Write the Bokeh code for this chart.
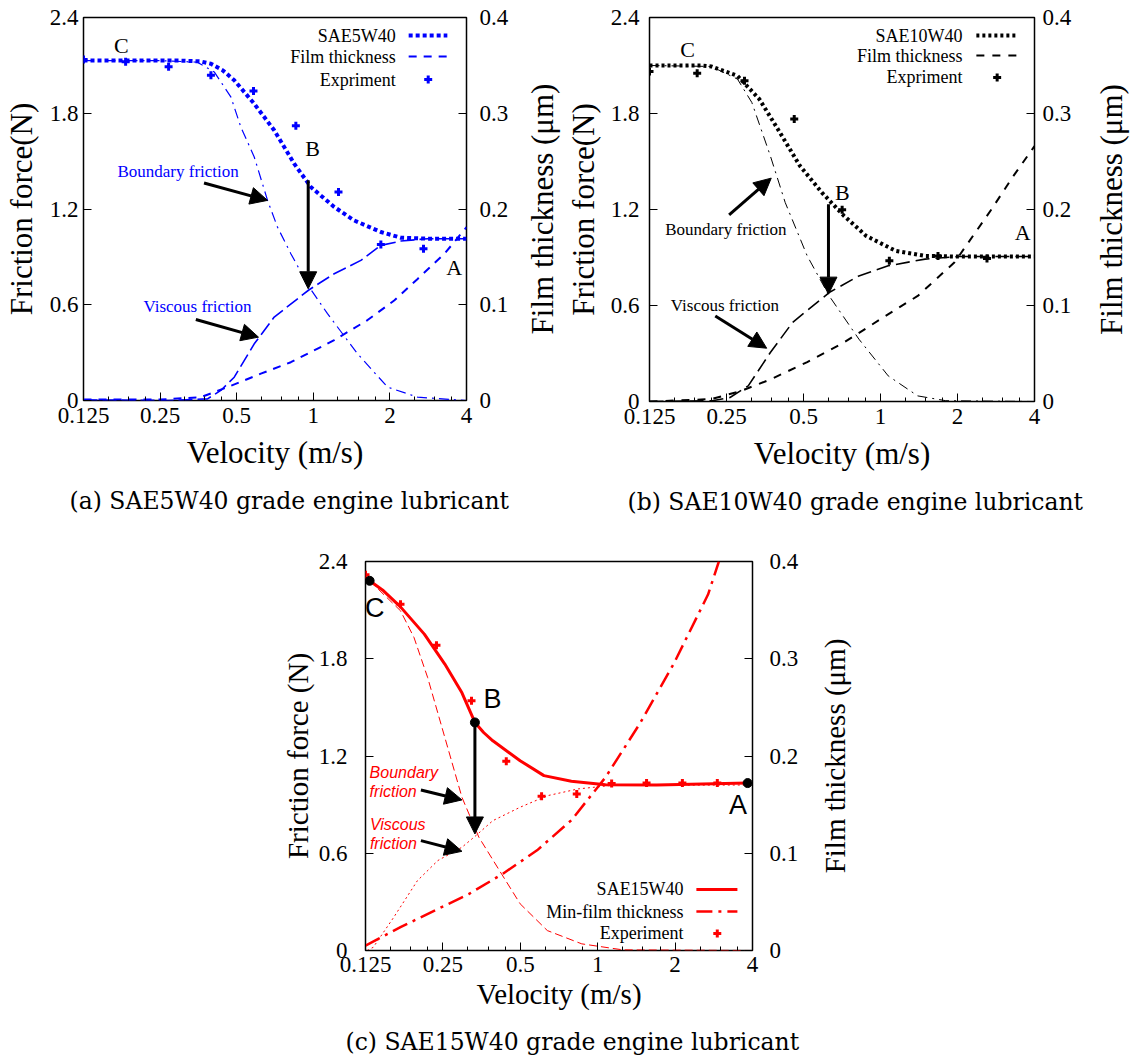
import math
from bokeh.plotting import figure
from bokeh.models import (Range1d, LinearAxis, FixedTicker, CustomJSTickFormatter,
                          Label, Arrow, NormalHead, Title)
from bokeh.layouts import column, row
from bokeh.embed import file_html
from bokeh.resources import INLINE

SERIF = "Liberation Serif"
SANS = "Liberation Sans"
CAPF = "DejaVu Serif"

# ---------------- axes ----------------
X_MIN, X_MAX = 0.125, 4.0
F_MAX, H_MAX = 2.4, 0.4
X_TICKS = [0.125, 0.25, 0.5, 1, 2, 4]
X_MINOR = [0.15625, 0.1875, 0.21875, 0.3125, 0.375, 0.4375, 0.625, 0.75, 0.875,
           1.25, 1.5, 1.75, 2.5, 3, 3.5]
F_TICKS = [0, 0.6, 1.2, 1.8, 2.4]
H_TICKS = [0, 0.1, 0.2, 0.3, 0.4]

# ---------------- (a) SAE5W40 ----------------
a_exp_v = [0.125, 0.183, 0.270, 0.396, 0.582, 0.854, 1.256, 1.843, 2.71]
a_exp_f = [2.137, 2.122, 2.091, 2.038, 1.940, 1.721, 1.307, 0.978, 0.951]
a_tot_v = [0.125, 0.20, 0.30, 0.36, 0.396, 0.44, 0.489, 0.585, 0.702, 0.841, 0.978, 1.208, 1.444, 1.843, 2.209, 2.8, 4.0]
a_tot_f = [2.13, 2.13, 2.13, 2.125, 2.11, 2.07, 2.007, 1.861, 1.693, 1.484, 1.338, 1.213, 1.129, 1.056, 1.020, 1.014, 1.014]
a_bnd_v = [0.125, 0.25, 0.35, 0.408, 0.474, 0.519, 0.586, 0.661, 0.723, 0.816, 0.963, 1.137, 1.492, 1.958, 2.57, 4.0]
a_bnd_f = [2.13, 2.13, 2.12, 2.059, 1.903, 1.714, 1.526, 1.254, 1.087, 0.920, 0.711, 0.544, 0.293, 0.084, 0.021, 0.0]
a_vis_v = [0.125, 0.27, 0.384, 0.433, 0.489, 0.586, 0.702, 0.963, 1.208, 1.538, 1.843, 2.209, 2.81, 4.0]
a_vis_f = [0.004, 0.0, 0.01, 0.063, 0.146, 0.355, 0.523, 0.694, 0.794, 0.878, 0.972, 0.999, 1.014, 1.014]
a_h_v = [0.125, 0.25, 0.362, 0.460, 0.622, 0.816, 1.208, 1.634, 2.079, 2.57, 3.27, 4.0]
a_h = [0.001, 0.001, 0.0035, 0.014, 0.028, 0.040, 0.063, 0.084, 0.1045, 0.127, 0.153, 0.181]

# ---------------- (b) SAE10W40 ----------------
b_exp_v = [0.125, 0.192, 0.294, 0.460, 0.708, 1.083, 1.678, 2.608]
b_exp_f = [2.063, 2.052, 2.004, 1.765, 1.198, 0.879, 0.910, 0.894]
b_tot_v = [0.125, 0.20, 0.218, 0.276, 0.336, 0.397, 0.484, 0.590, 0.720, 0.879, 1.145, 1.494, 2.0, 4.0]
b_tot_f = [2.10, 2.10, 2.094, 2.035, 1.890, 1.702, 1.473, 1.306, 1.160, 1.035, 0.942, 0.910, 0.906, 0.906]
b_bnd_v = [0.125, 0.218, 0.276, 0.314, 0.371, 0.424, 0.517, 0.630, 0.823, 1.072, 1.398, 1.8, 4.0]
b_bnd_f = [2.10, 2.094, 2.015, 1.869, 1.535, 1.244, 0.910, 0.660, 0.390, 0.160, 0.035, 0.005, 0.0]
b_vis_v = [0.125, 0.22, 0.258, 0.304, 0.371, 0.453, 0.630, 0.823, 1.072, 1.494, 2.0, 4.0]
b_vis_f = [0.0, 0.005, 0.025, 0.098, 0.306, 0.494, 0.681, 0.785, 0.848, 0.890, 0.906, 0.906]
b_h_v = [0.125, 0.218, 0.285, 0.371, 0.517, 0.720, 1.003, 1.398, 1.948, 2.713, 3.31, 4.0]
b_h = [0.0, 0.0025, 0.011, 0.023, 0.041, 0.0615, 0.086, 0.110, 0.145, 0.200, 0.235, 0.266]

# ---------------- (c) SAE15W40 ----------------
c_exp_v = [0.125, 0.171, 0.236, 0.323, 0.441, 0.605, 0.829, 1.133, 1.549, 2.135, 2.919]
c_exp_f = [2.318, 2.137, 1.884, 1.541, 1.167, 0.951, 0.966, 1.031, 1.033, 1.033, 1.033]
c_tot_v = [0.1297, 0.1469, 0.171, 0.2117, 0.2543, 0.2965, 0.333, 0.36, 0.391, 0.4993, 0.618, 0.790, 1.072, 1.697, 3.83]
c_tot_f = [2.281, 2.219, 2.12, 1.952, 1.767, 1.59, 1.407, 1.345, 1.294, 1.171, 1.079, 1.044, 1.023, 1.021, 1.033]
c_bnd_v = [0.1297, 0.171, 0.193, 0.218, 0.2543, 0.2965, 0.345, 0.415, 0.4993, 0.637, 0.867, 1.25, 4.0]
c_bnd_f = [2.281, 2.096, 1.931, 1.685, 1.315, 0.945, 0.699, 0.493, 0.288, 0.123, 0.041, 0.004, 0.0]
c_vis_v = [0.127, 0.134, 0.161, 0.199, 0.239, 0.2965, 0.336, 0.391, 0.4993, 0.637, 0.84, 1.14, 4.0]
c_vis_f = [0.0, 0.02, 0.205, 0.431, 0.555, 0.637, 0.709, 0.801, 0.884, 0.955, 0.997, 1.019, 1.021]
c_h_v = [0.125, 0.171, 0.232, 0.315, 0.428, 0.581, 0.790, 1.072, 1.456, 1.977, 2.686, 2.96]
c_h = [0.0051, 0.024, 0.041, 0.058, 0.079, 0.103, 0.134, 0.178, 0.233, 0.295, 0.366, 0.4]
c_pts_v = [0.1297, 0.333, 3.83]        # marked points C, B, A
c_pts_f = [2.281, 1.407, 1.033]

# ---------------- annotations (data coords) ----------------
a_letters = [("C", 0.176, 2.227), ("B", 0.993, 1.578), ("A", 3.58, 0.836)]
b_letters = [("C", 0.176, 2.202), ("B", 0.709, 1.306), ("A", 3.6, 1.056)]
c_letters = [("C", 0.1357, 2.116), ("B", 0.390, 1.551), ("A", 3.51, 0.900)]
a_notes = [("Boundary friction", 0.170, 1.432), ("Viscous friction", 0.215, 0.592)]
b_notes = [("Boundary friction", 0.144, 1.077), ("Viscous friction", 0.1515, 0.598)]
c_notes = [("Boundary", 0.1297, 1.099), ("friction", 0.1297, 0.982),
           ("Viscous", 0.130, 0.777), ("friction", 0.130, 0.662)]
a_arrows = [(0.372, 1.363, 0.661, 1.254), (0.3455, 0.508, 0.609, 0.397), (0.955, 1.380, 0.955, 0.700)]
b_arrows = [(0.256, 1.167, 0.374, 1.396), (0.226, 0.535, 0.359, 0.333), (0.626, 1.233, 0.626, 0.671)]
c_arrows = [(0.2053, 0.990, 0.2965, 0.929), (0.2053, 0.678, 0.2965, 0.612), (0.333, 1.407, 0.333, 0.719)]
RIGHT_TITLE = "Film thickness (μm)"


def fx(f):
    return X_MIN * (X_MAX / X_MIN) ** f


def fy(f):
    return F_MAX * f


def make_panel(fw, fh, bl, br, bt, bb, title_px, tick_px, ylab, std, caption, cap_off, cap_std):
    p = figure(x_axis_type="log", x_range=Range1d(X_MIN, X_MAX), y_range=Range1d(0, F_MAX),
               frame_width=fw, frame_height=fh, min_border_left=bl, min_border_right=br,
               min_border_top=bt, min_border_bottom=bb, output_backend="svg",
               toolbar_location=None, title=None)
    p.extra_y_ranges = {"h": Range1d(0, H_MAX)}
    p.xgrid.visible = False
    p.ygrid.visible = False
    p.outline_line_color = "black"
    p.outline_line_width = 1.5
    p.outline_line_alpha = 1
    p.background_fill_color = "white"
    p.border_fill_color = "white"
    xa = p.xaxis[0]
    ya = p.yaxis[0]
    ra = LinearAxis(y_range_name="h")
    p.add_layout(ra, "right")
    xa.ticker = FixedTicker(ticks=X_TICKS, minor_ticks=X_MINOR)
    ya.ticker = FixedTicker(ticks=F_TICKS, minor_ticks=[])
    ra.ticker = FixedTicker(ticks=H_TICKS, minor_ticks=[])
    for a in (xa, ya, ra):
        a.formatter = CustomJSTickFormatter(code="return String(tick)")
        a.major_tick_in = 8
        a.major_tick_out = 0
        a.minor_tick_in = 4
        a.minor_tick_out = 0
        a.major_tick_line_color = "black"
        a.minor_tick_line_color = "black"
        a.axis_line_color = None
        a.major_label_text_font = SERIF
        a.major_label_text_font_size = f"{tick_px}px"
        a.major_label_text_color = "black"
        a.axis_label_text_font = SERIF
        a.axis_label_text_font_size = f"{title_px}px"
        a.axis_label_text_font_style = "normal"
        a.axis_label_text_color = "black"
    xa.axis_label = "Velocity (m/s)"
    ya.axis_label = ylab
    xa.major_label_standoff, xa.axis_label_standoff = std[0]
    ya.major_label_standoff, ya.axis_label_standoff = std[1]
    ra.major_label_standoff = std[2]
    cap = Title(text=caption, align="left", offset=cap_off, standoff=cap_std,
                text_font=CAPF, text_font_size="23.5px", text_font_style="normal",
                text_color="black")
    p.add_layout(cap, "below")
    return p


def right_title(bl, bt, fh, bb, title_px, standoff):
    """Narrow strip carrying the right-hand axis title, reading bottom to top."""
    t = figure(x_range=Range1d(0, 1), y_range=Range1d(0, H_MAX), frame_width=1, frame_height=fh,
               min_border_left=bl, min_border_right=1, min_border_top=bt, min_border_bottom=bb,
               x_axis_location=None, output_backend="svg", toolbar_location=None, title=None)
    t.outline_line_color = None
    t.grid.visible = False
    t.background_fill_color = "white"
    t.border_fill_color = "white"
    ax = t.yaxis[0]
    ax.ticker = FixedTicker(ticks=[], minor_ticks=[])
    ax.major_tick_in = 0
    ax.major_tick_out = 0
    ax.minor_tick_in = 0
    ax.minor_tick_out = 0
    ax.axis_line_color = None
    ax.major_label_text_font_size = "0px"
    ax.major_label_standoff = 0
    ax.axis_label = RIGHT_TITLE
    ax.axis_label_standoff = standoff
    ax.axis_label_text_font = SERIF
    ax.axis_label_text_font_size = f"{title_px}px"
    ax.axis_label_text_font_style = "normal"
    ax.axis_label_text_color = "black"
    return t


def add_text(p, items, size, color="black", font=SERIF, align="left", style="normal"):
    for t, x, y in items:
        p.add_layout(Label(x=x, y=y, text=t, text_font=font, text_font_size=size,
                           text_color=color, text_align=align, text_baseline="middle",
                           text_font_style=style))


def add_arrows(p, arrows, head=17, width=3):
    for x0, y0, x1, y1 in arrows:
        p.add_layout(Arrow(end=NormalHead(size=head, fill_color="black", line_color="black"),
                           x_start=x0, y_start=y0, x_end=x1, y_end=y1,
                           line_width=width, line_color="black"))


def add_legend(p, rows, tx, sx0, sx1, mx, names, styles, color, size="18px"):
    for (r, name, st) in zip(rows, names, styles):
        p.add_layout(Label(x=fx(tx), y=fy(r), text=name, text_font=SERIF, text_font_size=size,
                           text_color="black", text_align="right", text_baseline="middle"))
        if st is None:
            p.scatter([fx(mx)], [fy(r)], marker="cross", size=8, line_width=3, color=color)
        else:
            p.line([fx(sx0), fx(sx1)], [fy(r), fy(r)], line_color=color, **st)


# ================= panel (a) =================
BLUE = "#0000ff"
pa = make_panel(383, 383, 83, 52, 17, 130, 31, 23, "Friction force(N)",
                [(7, 9), (5, 8), 13],
                "(a) SAE5W40 grade engine lubricant", -14, 24)
ta = right_title(42, 17, 383, 130, 31, 1)
a_tot_style = dict(line_width=4, line_dash="4 3")
a_h_style = dict(line_width=2, line_dash="8 7")
pa.line(a_bnd_v, a_bnd_f, line_color=BLUE, line_width=1.2, line_dash="10 5 2 5")
pa.line(a_vis_v, a_vis_f, line_color=BLUE, line_width=1.6, line_dash="14 5")
pa.line(a_h_v, a_h, y_range_name="h", line_color=BLUE, **a_h_style)
pa.line(a_tot_v, a_tot_f, line_color=BLUE, **a_tot_style)
pa.scatter(a_exp_v, a_exp_f, marker="cross", size=8, line_width=3, color=BLUE)
add_text(pa, a_letters, "22px", align="center")
add_text(pa, a_notes, "17px", color=BLUE)
add_arrows(pa, a_arrows)
add_legend(pa, [0.953, 0.898, 0.838], 0.815, 0.849, 0.950, 0.90,
           ["SAE5W40", "Film thickness", "Expriment"], [a_tot_style, a_h_style, None], BLUE)

# ================= panel (b) =================
pb = make_panel(385, 384, 83, 54, 15, 131, 31, 23, "Friction force(N)",
                [(7, 9), (10, 7), 8],
                "(b) SAE10W40 grade engine lubricant", -22, 24)
tb = right_title(52, 15, 384, 131, 31, 12)
b_tot_style = dict(line_width=4, line_dash="3 3")
b_h_style = dict(line_width=2, line_dash="8 8")
pb.line(b_bnd_v, b_bnd_f, line_color="black", line_width=1.0, line_dash="10 5 2 5")
pb.line(b_vis_v, b_vis_f, line_color="black", line_width=1.6, line_dash="14 6")
pb.line(b_h_v, b_h, y_range_name="h", line_color="black", **b_h_style)
pb.line(b_tot_v, b_tot_f, line_color="black", **b_tot_style)
pb.scatter(b_exp_v, b_exp_f, marker="cross", size=8, line_width=3, color="black")
add_text(pb, b_letters, "22px", align="center")
add_text(pb, b_notes, "17px")
add_arrows(pb, b_arrows)
add_legend(pb, [0.953, 0.901, 0.844], 0.813, 0.849, 0.953, 0.903,
           ["SAE10W40", "Film thickness", "Expriment"], [b_tot_style, b_h_style, None], "black")

# ================= panel (c) =================
RED = "#ff0000"
pc = make_panel(387, 389, 365, 54, 31, 114, 29, 23, "Friction force (N)",
                [(6, 3), (18, 2), 17],
                "(c) SAE15W40 grade engine lubricant", -20, 26)
tc = right_title(46, 31, 389, 114, 29, 2)
c_tot_style = dict(line_width=3)
c_h_style = dict(line_width=2.5, line_dash="16 6 3 6")
pc.line(c_bnd_v, c_bnd_f, line_color=RED, line_width=1.0, line_dash="8 4")
pc.line(c_vis_v, c_vis_f, line_color=RED, line_width=1.0, line_dash="2 3")
pc.line(c_h_v, c_h, y_range_name="h", line_color=RED, **c_h_style)
pc.line(c_tot_v, c_tot_f, line_color=RED, **c_tot_style)
pc.scatter(c_exp_v, c_exp_f, marker="cross", size=8, line_width=3, color=RED)
add_arrows(pc, c_arrows)
pc.scatter(c_pts_v, c_pts_f, marker="circle", size=9, color="black")
add_text(pc, c_letters, "27px", font=SANS, align="center")
add_text(pc, c_notes, "16px", color=RED, font=SANS, style="italic")
add_legend(pc, [0.157, 0.100, 0.044], 0.822, 0.855, 0.961, 0.909,
           ["SAE15W40", "Min-film thickness", "Experiment"], [c_tot_style, c_h_style, None], RED)

layout = column(row(pa, ta, pb, tb), row(pc, tc))
open("out.html", "w").write(file_html(layout, INLINE))
